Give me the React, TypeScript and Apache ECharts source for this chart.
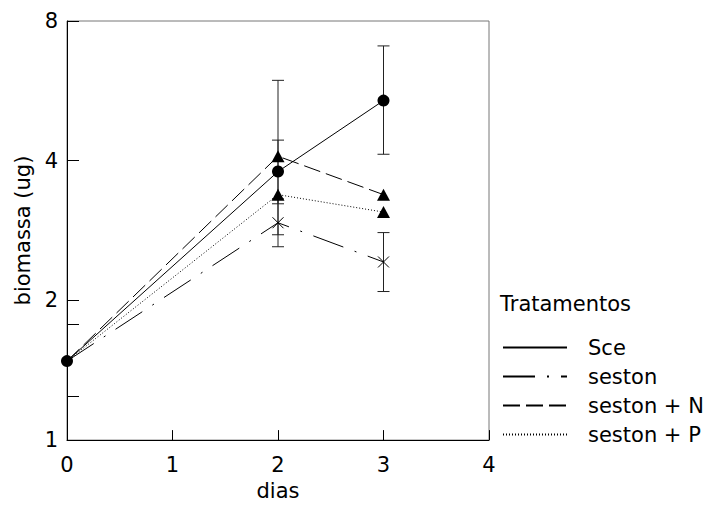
import React, { useEffect, useRef } from "react";
import * as echarts from "echarts";

const days = [0, 2, 3];
const sceMean = [1.48, 3.79, 5.39];
const sceLow = [null, 3.23, 4.13];
const sceHigh = [null, 4.43, 7.07];
const sestonMean = [1.48, 2.94, 2.42];
const sestonLow = [null, 2.61, 2.09];
const sestonHigh = [null, 3.31, 2.8];
const sestonNMean = [1.48, 4.09, 3.38];
const sestonNLow = [null, 2.77, null];
const sestonNHigh = [null, 5.96, null];
const sestonPMean = [1.48, 3.38, 3.1];
const seriesNames = ["Sce", "seston", "seston + N", "seston + P"];
const yLabelValues = [1, 2, 4, 8];
const yTickValues = [1, 1.24, 1.78, 2, 4, 8];

const FONT = "DejaVu Sans";

function lineData(vals: number[], hideFirst: boolean) {
  return vals.map((v, i) =>
    hideFirst && i === 0 ? { value: [days[i], v], symbol: "none" } : { value: [days[i], v] }
  );
}

function errData(lows: (number | null)[], highs: (number | null)[]) {
  const out: number[][] = [];
  days.forEach((d, i) => {
    const lo = lows[i];
    const hi = highs[i];
    if (lo != null && hi != null) out.push([d, lo, hi]);
  });
  return out;
}

export default function App() {
  const ref = useRef<HTMLDivElement>(null);
  useEffect(() => {
    if (!ref.current) return;
    const chart = echarts.init(ref.current, undefined, { renderer: "svg" });
    const allErr = [
      ...errData(sceLow, sceHigh),
      ...errData(sestonLow, sestonHigh),
      ...errData(sestonNLow, sestonNHigh),
    ];
    const lineBase = { type: "line", symbolKeepAspect: true, z: 3 };
    chart.setOption({
      animation: false,
      backgroundColor: "#fff",
      textStyle: { fontFamily: FONT, color: "#000" },
      title: {
        text: "Tratamentos",
        left: 500,
        top: 293,
        padding: 0,
        textStyle: { fontSize: 21, fontWeight: "normal", color: "#000", fontFamily: FONT },
      },
      legend: {
        orient: "vertical",
        left: 502,
        top: 337,
        padding: 0,
        itemWidth: 64,
        itemHeight: 14,
        itemGap: 8,
        data: seriesNames,
        itemStyle: { opacity: 0 },
        textStyle: {
          fontSize: 21,
          lineHeight: 21,
          color: "#000",
          fontFamily: FONT,
          padding: [0, 0, 0, 16],
        },
        selectedMode: false,
      },
      grid: {
        left: 67,
        top: 21,
        right: 221,
        bottom: 63,
        show: true,
        borderColor: "#777",
        borderWidth: 1,
        backgroundColor: "transparent",
      },
      xAxis: {
        type: "value",
        min: 0,
        max: 4,
        interval: 1,
        name: "dias",
        nameLocation: "middle",
        nameGap: 39,
        nameTextStyle: { fontSize: 21, color: "#000", fontFamily: FONT },
        axisLine: { show: true, lineStyle: { color: "#000", width: 1 } },
        axisTick: { show: true, inside: true, length: 10, lineStyle: { color: "#000" } },
        axisLabel: { fontSize: 21, color: "#000", margin: 14, fontFamily: FONT },
        splitLine: { show: false },
      },
      yAxis: {
        type: "log",
        logBase: 2,
        min: 1,
        max: 8,
        interval: 1,
        name: "biomassa (ug)",
        nameLocation: "middle",
        nameGap: 31,
        nameRotate: 90,
        nameTextStyle: { fontSize: 21, color: "#000", fontFamily: FONT },
        axisLine: { show: true, lineStyle: { color: "#000", width: 1 } },
        axisTick: {
          show: true,
          inside: true,
          length: 12,
          lineStyle: { color: "#000" },
          customValues: yTickValues,
        },
        axisLabel: {
          fontSize: 21,
          color: "#000",
          margin: 9,
          fontFamily: FONT,
          customValues: yLabelValues,
        },
        splitLine: { show: false },
        minorTick: { show: false },
      },
      series: [
        {
          type: "custom",
          name: "errors",
          z: 2,
          silent: true,
          encode: { x: 0, y: [1, 2] },
          data: allErr,
          renderItem: (params: any, api: any) => {
            const x = api.value(0);
            const pLo = api.coord([x, api.value(1)]);
            const pHi = api.coord([x, api.value(2)]);
            const w = 6;
            const st = { stroke: "#222", lineWidth: 1 };
            return {
              type: "group",
              children: [
                { type: "line", shape: { x1: pLo[0], y1: pLo[1], x2: pHi[0], y2: pHi[1] }, style: st },
                { type: "line", shape: { x1: pLo[0] - w, y1: pLo[1], x2: pLo[0] + w, y2: pLo[1] }, style: st },
                { type: "line", shape: { x1: pHi[0] - w, y1: pHi[1], x2: pHi[0] + w, y2: pHi[1] }, style: st },
              ],
            };
          },
        },
        {
          ...lineBase,
          name: "seston",
          data: lineData(sestonMean, true),
          symbol: "path://M0 0L10 10M10 0L0 10",
          symbolSize: 11,
          itemStyle: { color: "#000", borderColor: "#000", borderWidth: 1 },
          lineStyle: { color: "#000", width: 1, type: [32, 12, 2, 12] },
        },
        {
          ...lineBase,
          name: "seston + N",
          data: lineData(sestonNMean, true),
          symbol: "triangle",
          symbolSize: [13, 12],
          itemStyle: { color: "#000" },
          lineStyle: { color: "#000", width: 1, type: [17, 6] },
        },
        {
          ...lineBase,
          name: "seston + P",
          data: lineData(sestonPMean, true),
          symbol: "triangle",
          symbolSize: [13, 12],
          itemStyle: { color: "#000" },
          lineStyle: { color: "#000", width: 1, type: [1, 2] },
        },
        {
          ...lineBase,
          name: "Sce",
          z: 4,
          data: lineData(sceMean, false),
          symbol: "circle",
          symbolSize: 12,
          itemStyle: { color: "#000" },
          lineStyle: { color: "#000", width: 1, type: "solid" },
        },
      ],
    });
    return () => chart.dispose();
  }, []);
  return (
    <div
      ref={ref}
      style={{ position: "absolute", left: 0, top: 0, width: 710, height: 506, background: "#fff" }}
    />
  );
}
